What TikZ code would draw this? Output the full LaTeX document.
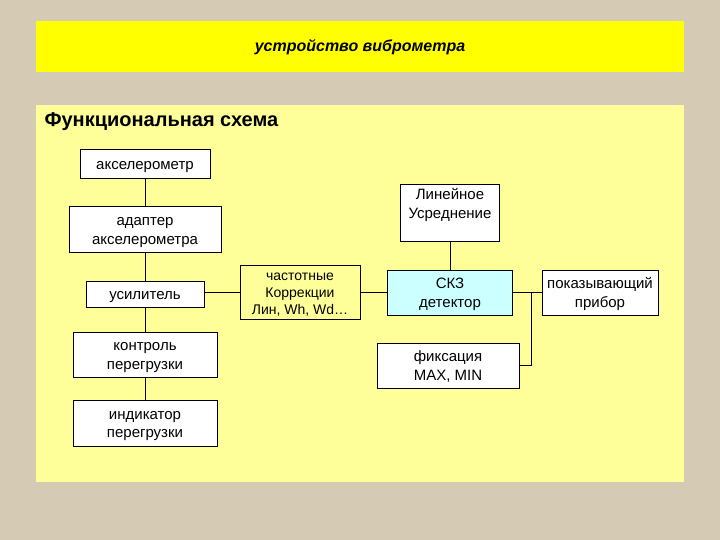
\documentclass[tikz,border=0pt]{standalone}
\usepackage{fontspec}
\setmainfont{Liberation Sans}
\definecolor{holst}{HTML}{D5CAB3}
\definecolor{panel}{HTML}{FFFF99}
\definecolor{shapka}{HTML}{FFFF00}
\definecolor{goluboj}{HTML}{CCFFFF}
\newcommand\verhst{\rule{0pt}{0.95em}}
\newcommand\nizst{\rule[-0.23em]{0pt}{0.23em}}

\begin{document}
\begin{tikzpicture}[x=1pt,y=-1pt,
  blok/.style={draw,line width=1pt,fill=white,inner sep=0pt,align=center,
    font=\fontsize{15}{18.5}\selectfont},
  svyaz/.style={line width=1pt}]

\fill[holst] (0,0) rectangle (720,540);
\fill[shapka] (36,21) rectangle (684,72);
\fill[panel] (36,105) rectangle (684,482);

\node[font=\fontsize{16}{19}\selectfont\bfseries\itshape] (titul) at (360,47) {устройство виброметра};
\node[anchor=west,font=\fontsize{20}{24}\selectfont\bfseries] (shema) at (41,122) {Функциональная схема};

% left column
\node[blok,minimum width=130,minimum height=29] (akselerometr) at (145,164.5) {\verhst акселерометр\nizst};
\node[blok,minimum width=152,minimum height=45] (adapter) at (145,229.5) {\verhst адаптер\\акселерометра\nizst};
\node[blok,minimum width=118,minimum height=26] (usilitel) at (145,294.5) {\verhst усилитель\nizst};
\node[blok,minimum width=144,minimum height=45] (kontrol) at (145,354.5) {\verhst контроль\\перегрузки\nizst};
\node[blok,minimum width=144,minimum height=46] (indikator) at (145,423) {\verhst индикатор\\перегрузки\nizst};

% middle and right
\node[blok,fill=panel,minimum width=120,minimum height=54,
  font=\fontsize{14}{17}\selectfont] (korrekcii) at (300,292.5) {\verhst частотные\\Коррекции\\Лин, Wh, Wd\dots\nizst};
\node[blok,minimum width=99,minimum height=56] (usrednenie) at (450,213) {\verhst Линейное\\Усреднение\\\nizst};
\node[blok,fill=goluboj,minimum width=125,minimum height=45] (detektor) at (450,292.5) {\verhst СКЗ\\детектор\nizst};
\node[blok,minimum width=142,minimum height=45] (fiksaciya) at (448,365.5) {\verhst фиксация\\MAX, MIN\nizst};
\node[blok,minimum width=116,minimum height=45] (pribor) at (600,292.5) {\verhst показывающий\\прибор\nizst};
\coordinate (uzel) at (531,292.5);

\draw[svyaz] (akselerometr) -- (adapter);
\draw[svyaz] (adapter) -- (usilitel);
\draw[svyaz] (usilitel) -- (kontrol);
\draw[svyaz] (kontrol) -- (indikator);
\draw[svyaz] (korrekcii.west) -- (korrekcii.west -| usilitel.east);
\draw[svyaz] (korrekcii) -- (detektor);
\draw[svyaz] (usrednenie) -- (detektor);
\draw[svyaz] (detektor) -- (pribor);
\draw[svyaz] (fiksaciya.east) -| (uzel);
\end{tikzpicture}
\end{document}
